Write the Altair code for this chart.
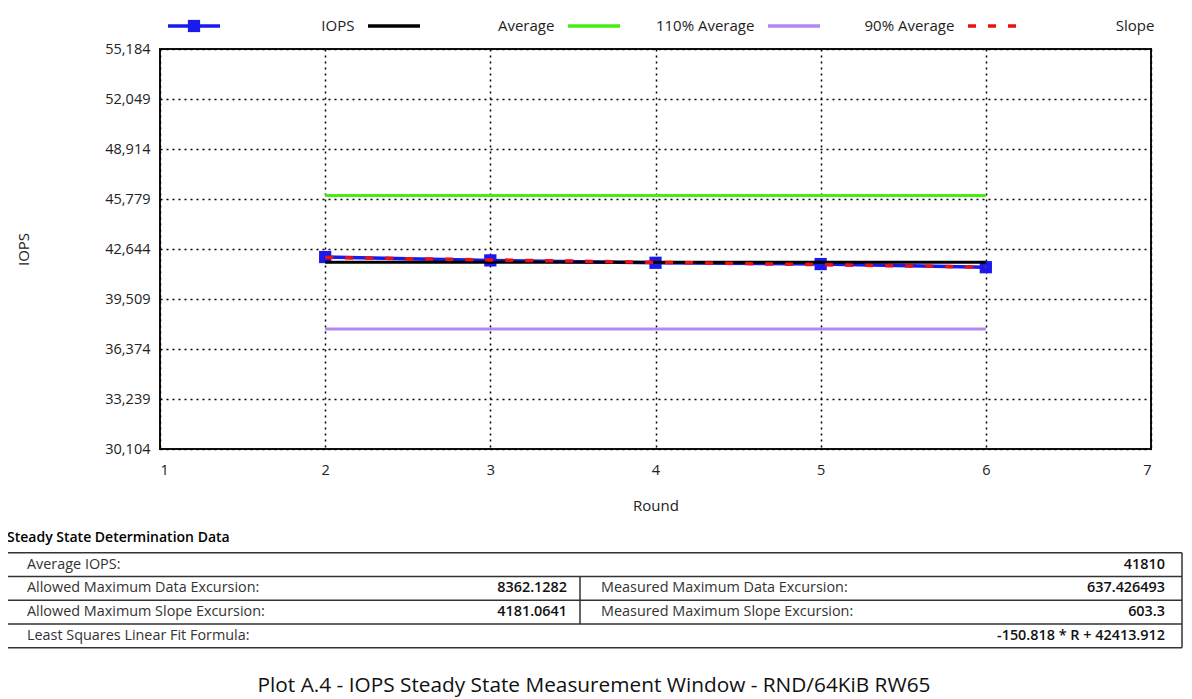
import altair as alt
import pandas as pd

FONT = "Open Sans"

# ---- data ----
rounds = [2, 3, 4, 5, 6]
iops = [42140, 41930, 41780, 41700, 41503]
average_iops = 41810
slope_a = -150.818
slope_b = 42413.912
y_ticks = [30104, 33239, 36374, 39509, 42644, 45779, 48914, 52049, 55184]
x_ticks = [1, 2, 3, 4, 5, 6, 7]

legend_names = ["IOPS", "Average", "110% Average", "90% Average", "Slope"]
legend_colors = ["#1a1aee", "#000000", "#44ee11", "#b388f0", "#ee1111"]

left_labels = ["Average IOPS:", "Allowed Maximum Data Excursion:",
               "Allowed Maximum Slope Excursion:", "Least Squares Linear Fit Formula:"]
mid_labels = ["Measured Maximum Data Excursion:", "Measured Maximum Slope Excursion:"]
mid_values = ["8362.1282", "4181.0641"]
right_values = ["41810", "637.426493", "603.3", "-150.818 * R + 42413.912"]

heading = "Steady State Determination Data"
caption = "Plot A.4 - IOPS Steady State Measurement Window - RND/64KiB RW65"

BLUE, BLACK, GREEN, PURPLE, RED = legend_colors

# ---- main plot ----
W, H = 991, 400
xs = alt.Scale(domain=[1, 7], nice=False, zero=False)
ys = alt.Scale(domain=[y_ticks[0], y_ticks[-1]], nice=False, zero=False)

df_iops = pd.DataFrame({"round": rounds, "iops": iops})
ref_rows = []
for name, f in [("Average", 1.0), ("110% Average", 1.1), ("90% Average", 0.9)]:
    for r in [rounds[0], rounds[-1]]:
        ref_rows.append({"series": name, "round": r, "value": average_iops * f})
df_ref = pd.DataFrame(ref_rows)
df_slope = pd.DataFrame({"round": rounds, "value": [slope_a * r + slope_b for r in rounds]})

x_enc = alt.X("round:Q", scale=xs, title="Round",
              axis=alt.Axis(values=x_ticks, format="d", grid=True, gridDash=[2, 4],
                            gridColor="#000", gridWidth=1.5, domain=False, ticks=False,
                            labelPadding=14, titlePadding=22,
                            labelFont=FONT, titleFont=FONT, labelFontSize=14.5,
                            titleFontSize=15, labelColor="#222", titleColor="#222",
                            titleFontWeight="normal"))
y_axis = alt.Axis(values=y_ticks, format=",d", grid=True, gridDash=[2, 4],
                  gridColor="#000", gridWidth=1.5, domain=False, ticks=False,
                  labelPadding=10, titlePadding=73,
                  labelFont=FONT, titleFont=FONT, labelFontSize=14.5,
                  titleFontSize=15, labelColor="#222", titleColor="#222",
                  titleFontWeight="normal")

def ref_line(name, color):
    return alt.Chart(df_ref).transform_filter(alt.datum.series == name).mark_line(
        color=color, strokeWidth=3).encode(
        x=x_enc, y=alt.Y("value:Q", scale=ys, title="IOPS", axis=y_axis))

green = ref_line("110% Average", GREEN)
purple = ref_line("90% Average", PURPLE)
avg = ref_line("Average", BLACK)

iops_line = alt.Chart(df_iops).mark_line(color=BLUE, strokeWidth=3.5).encode(
    x=x_enc, y=alt.Y("iops:Q", scale=ys, title="IOPS", axis=y_axis))
iops_pts = alt.Chart(df_iops).mark_square(color=BLUE, size=150, opacity=1).encode(
    x=x_enc, y=alt.Y("iops:Q", scale=ys, title="IOPS", axis=y_axis))
slope_line = alt.Chart(df_slope).mark_line(color=RED, strokeWidth=3.5, strokeDash=[8, 12]).encode(
    x=x_enc, y=alt.Y("value:Q", scale=ys, title="IOPS", axis=y_axis))

main = alt.layer(green, purple, iops_line, iops_pts, avg, slope_line)

# ---- legend (entries 200px apart) ----
df_leg = pd.DataFrame({"i": list(range(5)), "name": legend_names, "color": legend_colors})
lxs = alt.Scale(domain=[0, W / 200], nice=False, zero=False)
leg_base = alt.Chart(df_leg).transform_calculate(
    x0="datum.i + 0.04", x1="datum.i + 0.30", xm="datum.i + 0.17", xl="datum.i + 0.972")
leg_solid = leg_base.transform_filter(alt.datum.i < 4).mark_rule(strokeWidth=3.5).encode(
    x=alt.X("x0:Q", scale=lxs, axis=None), x2="x1:Q", y=alt.value(-23),
    color=alt.Color("color:N", scale=None))
leg_dash = leg_base.transform_filter(alt.datum.i == 4).mark_rule(
    strokeWidth=3.5, strokeDash=[8, 12], color=RED).encode(
    x=alt.X("x0:Q", scale=lxs, axis=None), x2="x1:Q", y=alt.value(-23))
leg_sq = leg_base.transform_filter(alt.datum.i == 0).mark_square(
    size=150, opacity=1, color=BLUE).encode(
    x=alt.X("xm:Q", scale=lxs, axis=None), y=alt.value(-23))
leg_txt = leg_base.mark_text(align="right", baseline="middle", font=FONT,
                             fontSize=15, color="#222").encode(
    x=alt.X("xl:Q", scale=lxs, axis=None), y=alt.value(-23), text="name:N")
legend = alt.layer(leg_solid, leg_dash, leg_sq, leg_txt)

# ---- table (x in table px from its left edge, y in rows) ----
txs = alt.Scale(domain=[0, 1175], range=[-153, 1022], nice=False, zero=False)
tys = alt.Scale(domain=[0, 4], range=[503.7, 598.7], nice=False, zero=False)

hlines = pd.DataFrame({"y": [0, 1, 2, 3, 4], "x": 0, "x2": 1175})
vlines = pd.DataFrame({"x": [0, 1175, 573], "y": [0, 0, 1], "y2": [4, 4, 3]})
t_h = alt.Chart(hlines).mark_rule(color="#333", strokeWidth=1.5).encode(
    x=alt.X("x:Q", scale=txs, axis=None), x2="x2:Q",
    y=alt.Y("y:Q", scale=tys, axis=None))
t_v = alt.Chart(vlines).mark_rule(color="#333", strokeWidth=1.5).encode(
    x=alt.X("x:Q", scale=txs, axis=None),
    y=alt.Y("y:Q", scale=tys, axis=None), y2="y2:Q")

lab_df = pd.DataFrame(
    [{"t": t, "x": 20, "row": i + 0.5} for i, t in enumerate(left_labels)] +
    [{"t": t, "x": 594, "row": i + 1.5} for i, t in enumerate(mid_labels)])
val_df = pd.DataFrame(
    [{"t": t, "x": 1158, "row": i + 0.5} for i, t in enumerate(right_values)] +
    [{"t": t, "x": 560, "row": i + 1.5} for i, t in enumerate(mid_values)])
t_lab = alt.Chart(lab_df).mark_text(align="left", baseline="middle", font=FONT,
                                    fontSize=14.4, color="#333").encode(
    x=alt.X("x:Q", scale=txs, axis=None), y=alt.Y("row:Q", scale=tys, axis=None), text="t:N")
t_val = alt.Chart(val_df).mark_text(align="right", baseline="middle", font=FONT,
                                    fontSize=14.4, fontWeight=600, color="#111").encode(
    x=alt.X("x:Q", scale=txs, axis=None), y=alt.Y("row:Q", scale=tys, axis=None), text="t:N")

head_df = pd.DataFrame({"t": [heading], "x": [0], "row": [-0.6]})
t_head = alt.Chart(head_df).mark_text(align="left", baseline="middle", font=FONT,
                                      fontSize=14, fontWeight=600, color="#000").encode(
    x=alt.X("x:Q", scale=txs, axis=None), y=alt.Y("row:Q", scale=tys, axis=None), text="t:N")
cap_df = pd.DataFrame({"t": [caption], "x": [587], "row": [5.6]})
t_cap = alt.Chart(cap_df).mark_text(align="center", baseline="middle", font=FONT,
                                    fontSize=20.8, color="#111").encode(
    x=alt.X("x:Q", scale=txs, axis=None), y=alt.Y("row:Q", scale=tys, axis=None), text="t:N")

table = alt.layer(t_h, t_v, t_lab, t_val, t_head, t_cap)

chart = alt.layer(main, legend, table).resolve_scale(
    x="independent", y="independent"
).properties(
    width=W, height=H,
    background="white",
    autosize=alt.AutoSizeParams(type="none"),
    padding={"left": 152, "top": 41, "right": 33, "bottom": 252},
).configure_view(stroke="#111", strokeWidth=2)

chart.save("out.html", embed_options={"renderer": "svg", "actions": False})
